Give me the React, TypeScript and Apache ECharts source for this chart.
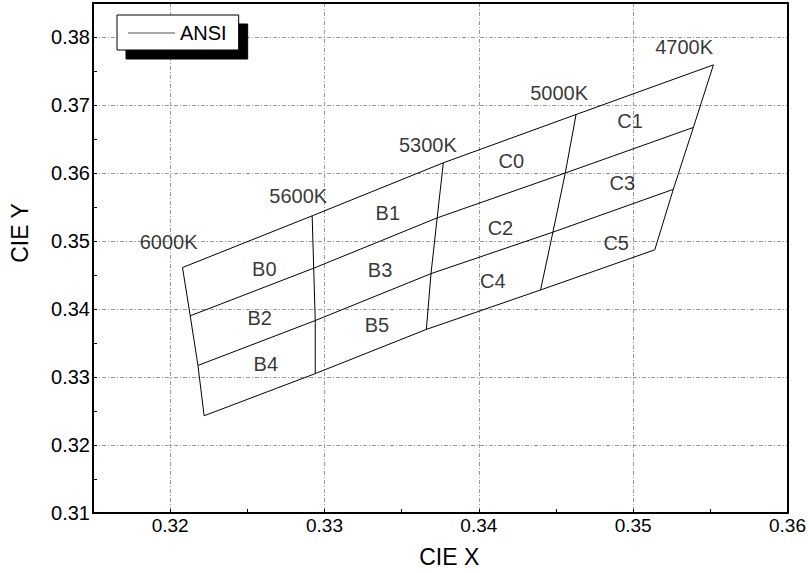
import React, { useEffect, useRef } from "react";
import * as echarts from "echarts";

// Column boundary points (top -> bottom) for each CCT line, [CIE x, CIE y]
const cctNames = ["6000K", "5600K", "5300K", "5000K", "4700K"];
const col6000K = [[0.3208, 0.3461], [0.3213, 0.339], [0.3218, 0.3317], [0.3222, 0.3243]];
const col5600K = [[0.3292, 0.3537], [0.3293, 0.346], [0.3294, 0.3383], [0.3294, 0.3305]];
const col5300K = [[0.3377, 0.3615], [0.3373, 0.3534], [0.3369, 0.3452], [0.3366, 0.337]];
const col5000K = [[0.3463, 0.3686], [0.3456, 0.36], [0.3448, 0.3513], [0.344, 0.3428]];
const col4700K = [[0.3552, 0.3759], [0.3539, 0.3667], [0.3526, 0.3576], [0.3514, 0.3487]];
const columns = [col6000K, col5600K, col5300K, col5000K, col4700K];

// CCT label anchor positions
const cctLabelX = [0.3199, 0.3283, 0.3367, 0.3452, 0.3533];
const cctLabelY = [0.3499, 0.3566, 0.3641, 0.3718, 0.3785];

// Bin names and label anchor positions
const binNames = ["B0", "B1", "C0", "C1", "B2", "B3", "C2", "C3", "B4", "B5", "C4", "C5"];
const binX = [0.3261, 0.3341, 0.3421, 0.3498, 0.3258, 0.3336, 0.3414, 0.3493, 0.3262, 0.3334, 0.3409, 0.3489];
const binY = [0.3459, 0.3541, 0.3618, 0.3677, 0.3387, 0.3457, 0.3519, 0.3585, 0.3319, 0.3377, 0.3441, 0.3497];

const FONT = "'Liberation Sans', Arial, sans-serif";

export default function App() {
  const ref = useRef<HTMLDivElement>(null);

  useEffect(() => {
    if (!ref.current) return;
    const chart = echarts.init(ref.current, null, { renderer: "svg" });

    const lineSeries: any[] = [];
    for (let r = 0; r < 4; r++) {
      lineSeries.push({
        name: "ANSI",
        type: "line",
        symbol: "none",
        lineStyle: { color: "#000", width: 1 },
        itemStyle: { color: "#000" },
        data: columns.map((c) => c[r]),
        z: 3,
      });
    }
    columns.forEach((c) => {
      lineSeries.push({
        name: "ANSI",
        type: "line",
        symbol: "none",
        lineStyle: { color: "#000", width: 1 },
        itemStyle: { color: "#000" },
        data: c,
        z: 3,
      });
    });

    const gridColor = "#9a9a9a";
    const labelFmt = (v: number) => {
      const k = Math.round(v * 1000);
      return k % 10 === 0 ? (k / 1000).toFixed(2) : "";
    };

    const textLabel = {
      show: true,
      position: "inside",
      formatter: "{b}",
      fontSize: 20,
      color: "#000",
      fontFamily: FONT,
    };

    const frameAxis = {
      type: "value",
      axisLine: { show: true, onZero: false, lineStyle: { color: "#000", width: 2 } },
      axisTick: { show: false },
      axisLabel: { show: false },
      splitLine: { show: false },
    };

    chart.setOption({
      animation: false,
      backgroundColor: "#fff",
      textStyle: { fontFamily: FONT },
      grid: {
        left: 93,
        right: 20,
        top: 3,
        bottom: 60,
        show: false,
      },
      legend: {
        data: [{ name: "ANSI", icon: "rect" }],
        left: 117,
        top: 15,
        orient: "horizontal",
        padding: [8, 12, 7, 11],
        itemWidth: 47,
        itemHeight: 1,
        itemGap: 5,
        itemStyle: { color: "#555" },
        lineStyle: { color: "#555", width: 1 },
        backgroundColor: "#fff",
        borderColor: "#000",
        borderWidth: 1,
        shadowColor: "#000",
        shadowOffsetX: 9,
        shadowOffsetY: 9,
        shadowBlur: 0,
        textStyle: { fontSize: 20, lineHeight: 20, color: "#000", fontFamily: FONT },
        selectedMode: false,
      },
      xAxis: [
        {
          type: "value",
          position: "bottom",
          min: 0.315,
          max: 0.36,
          interval: 0.005,
          name: "CIE X",
          nameLocation: "middle",
          nameGap: 32,
          nameTextStyle: { fontSize: 23, color: "#000", fontFamily: FONT, padding: [0, 0, 0, 18] },
          axisLine: { show: true, onZero: false, lineStyle: { color: "#000", width: 2 } },
          axisTick: { show: true, inside: true, length: 4, lineStyle: { color: "#000" } },
          axisLabel: { formatter: labelFmt, fontSize: 19, color: "#000", margin: 3, fontFamily: FONT, showMinLabel: true, showMaxLabel: true },
          splitLine: {
            show: true,
            lineStyle: { color: ["rgba(0,0,0,0)", gridColor], type: [4, 2, 1, 2], width: 1 },
          },
        },
        { ...frameAxis, position: "top", min: 0.315, max: 0.36, interval: 0.005 },
      ],
      yAxis: [
        {
          type: "value",
          position: "left",
          min: 0.31,
          max: 0.385,
          interval: 0.005,
          name: "CIE Y",
          nameLocation: "middle",
          nameGap: 62,
          nameTextStyle: { fontSize: 23, color: "#000", fontFamily: FONT, padding: [0, 0, 0, 50] },
          axisLine: { show: true, onZero: false, lineStyle: { color: "#000", width: 2 } },
          axisTick: { show: true, inside: true, length: 4, lineStyle: { color: "#000" } },
          axisLabel: { formatter: labelFmt, fontSize: 20, color: "#000", margin: 3, fontFamily: FONT, showMinLabel: true },
          splitLine: {
            show: true,
            lineStyle: { color: [gridColor, "rgba(0,0,0,0)"], type: [4, 2, 1, 2], width: 1 },
          },
        },
        { ...frameAxis, position: "right", min: 0.31, max: 0.385, interval: 0.005 },
      ],
      series: [
        ...lineSeries,
        {
          name: "cctLabels",
          type: "scatter",
          symbolSize: 1,
          itemStyle: { color: "rgba(0,0,0,0)" },
          label: textLabel,
          data: cctNames.map((n, i) => ({ name: n, value: [cctLabelX[i], cctLabelY[i]] })),
          z: 4,
        },
        {
          name: "binLabels",
          type: "scatter",
          symbolSize: 1,
          itemStyle: { color: "rgba(0,0,0,0)" },
          label: textLabel,
          data: binNames.map((n, i) => ({ name: n, value: [binX[i], binY[i]] })),
          z: 4,
        },
      ],
    });

    return () => chart.dispose();
  }, []);

  return (
    <div
      ref={ref}
      style={{ position: "absolute", left: 0, top: 0, width: 809, height: 573 }}
    />
  );
}
